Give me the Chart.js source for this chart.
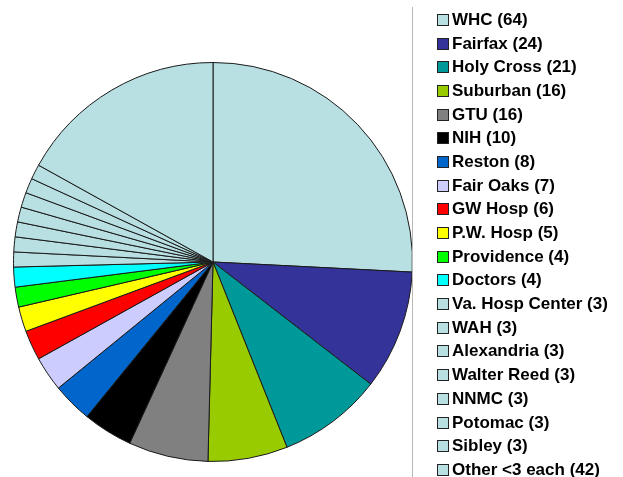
<!DOCTYPE html>
<html>
<head>
<meta charset="utf-8">
<script src="https://cdn.jsdelivr.net/npm/chart.js@4"></script>
<style>
  html, body { margin: 0; padding: 0; background: #fff; }
  #wrap { position: relative; width: 623px; height: 477px; }
  #myChart { position: absolute; left: 0; top: 0; }
  #sep { position: absolute; left: 412px; top: 7px; width: 1px; height: 470px; background: #b8b8b8; }
  #legend { position: absolute; left: 437px; top: 8px; margin: 0; padding: 0; list-style: none;
    font: bold 17px "Liberation Sans", Arial, sans-serif; color: #000; }
  #legend li { height: 23.7px; line-height: 24px; white-space: nowrap; display: flex; align-items: center; }
  #legend span.box { display: inline-block; width: 10px; height: 10px; border: 1px solid #222; margin-right: 3px; }
</style>
</head>
<body>
<div id="wrap">
  <canvas id="myChart" width="623" height="477"></canvas>
  <div id="sep"></div>
  <ul id="legend"></ul>
</div>
<script>
// hospitals and counts
const labels = ['WHC', 'Fairfax', 'Holy Cross', 'Suburban', 'GTU', 'NIH', 'Reston', 'Fair Oaks',
  'GW Hosp', 'P.W. Hosp', 'Providence', 'Doctors', 'Va. Hosp Center', 'WAH', 'Alexandria',
  'Walter Reed', 'NNMC', 'Potomac', 'Sibley', 'Other <3 each'];
const counts = [64, 24, 21, 16, 16, 10, 8, 7, 6, 5, 4, 4, 3, 3, 3, 3, 3, 3, 3, 42];

const lightBlue = '#b8dfe2';
const colors = [lightBlue, '#333399', '#009999', '#99cc00', '#808080', '#000000', '#0066cc', '#ccccff',
  '#ff0000', '#ffff00', '#00ff00', '#00ffff', lightBlue, lightBlue, lightBlue,
  lightBlue, lightBlue, lightBlue, lightBlue, lightBlue];

// html legend built from the same arrays
const legendEl = document.getElementById('legend');
labels.forEach((name, i) => {
	const li = document.createElement('li');
	const box = document.createElement('span');
	box.className = 'box';
	box.style.background = colors[i];
	li.appendChild(box);
	li.appendChild(document.createTextNode(name + ' (' + counts[i] + ')'));
	legendEl.appendChild(li);
});

const ctx = document.getElementById('myChart').getContext('2d');
const myChart = new Chart(ctx, {
	type: 'pie',
	data: {
		labels: labels,
		datasets: [{
			data: counts,
			backgroundColor: colors,
			borderColor: '#1a1a1a',
			borderWidth: 1
		}]
	},
	options: {
		responsive: false,
		animation: false,
		layout: { padding: { left: 13, right: 210, top: 62, bottom: 15 } },
		plugins: {
			legend: { display: false },
			tooltip: { enabled: false }
		}
	}
});
</script>
</body>
</html>
